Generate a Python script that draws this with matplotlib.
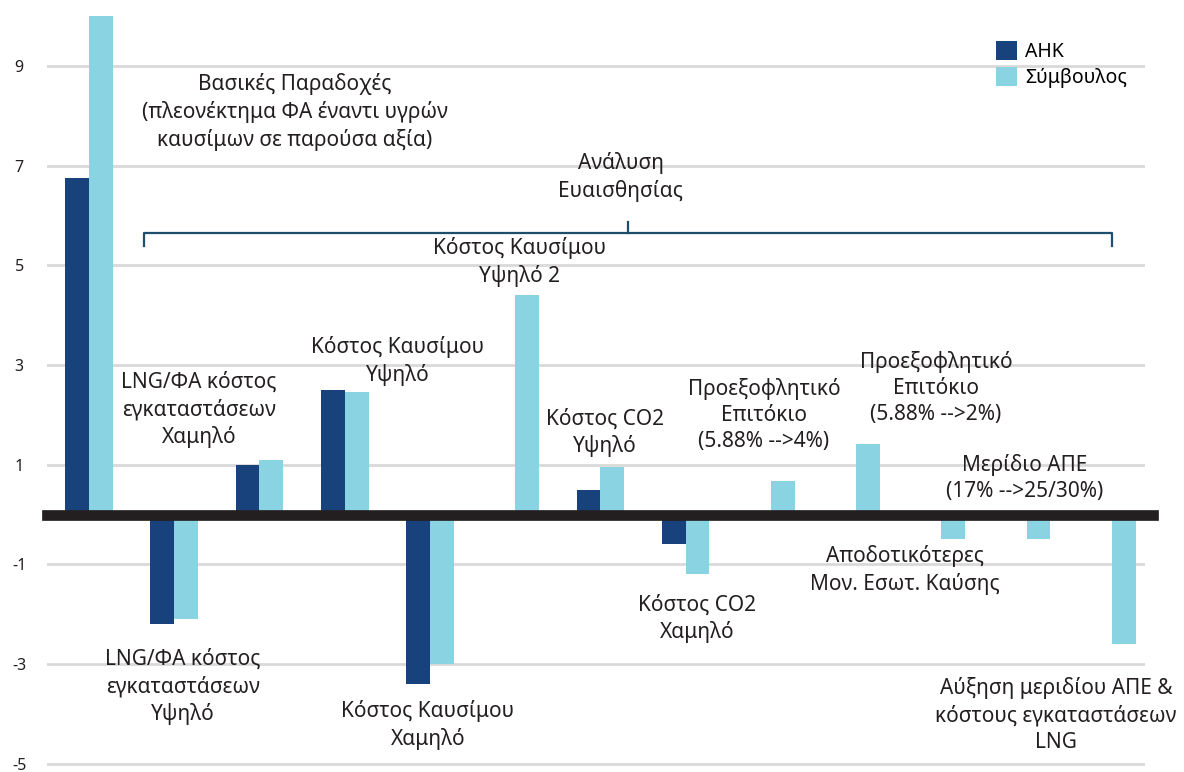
import numpy as np
import matplotlib
matplotlib.use('Agg')
import matplotlib.pyplot as plt
from matplotlib.lines import Line2D

plt.rcParams['font.family'] = ['Noto Sans', 'DejaVu Sans']
plt.rcParams['axes.unicode_minus'] = False

# values (13 scenarios)
ahk = [6.76, -2.2, 1.0, 2.5, -3.4, 0.0, 0.5, -0.6, 0.0, 0.0, 0.0, 0.0, 0.0]
symvoulos = [10.0, -2.1, 1.1, 2.45, -3.0, 4.4, 0.95, -1.2, 0.67, 1.42, -0.5, -0.5, -2.6]
series_names = ['ΑΗΚ', 'Σύμβουλος']
yticks = [-5, -3, -1, 1, 3, 5, 7, 9]

# scenario labels and where they sit (figure pixels, centre of block)
labels = [
    'Βασικές Παραδοχές\n(πλεονέκτημα ΦΑ έναντι υγρών\nκαυσίμων σε παρούσα αξία)',
    'Ανάλυση\nΕυαισθησίας',
    'Κόστος Καυσίμου\nΥψηλό 2',
    'LNG/ΦΑ κόστος\nεγκαταστάσεων\nΧαμηλό',
    'Κόστος Καυσίμου\nΥψηλό',
    'Κόστος CO2\nΥψηλό',
    'Προεξοφλητικό\nΕπιτόκιο\n(5.88% -->4%)',
    'Προεξοφλητικό\nΕπιτόκιο\n(5.88% -->2%)',
    'Μερίδιο ΑΠΕ\n(17% -->25/30%)',
    'Αποδοτικότερες\nΜον. Εσωτ. Καύσης',
    'LNG/ΦΑ κόστος\nεγκαταστάσεων\nΥψηλό',
    'Κόστος Καυσίμου\nΧαμηλό',
    'Κόστος CO2\nΧαμηλό',
    'Αύξηση μεριδίου ΑΠΕ &\nκόστους εγκαταστάσεων\nLNG',
]
label_pos = [(295, 112), (621, 177), (520, 262), (199, 410), (398, 361),
             (605, 433), (764, 415), (936, 388), (1025, 478), (905, 570),
             (183, 687), (428, 725), (697, 619), (1056, 715)]

W, H = 1184, 772
dark = '#17427c'
light = '#89d3e3'
txt = '#231f20'

fig = plt.figure(figsize=(W / 100, H / 100), dpi=100)
ax = fig.add_axes([47 / W, 0, (1145 - 47) / W, 1])

x = np.arange(len(ahk))
bw = 0.28
ax.bar(x - bw / 2, ahk, bw, color=dark, label=series_names[0], zorder=2)
ax.bar(x + bw / 2, symvoulos, bw, color=light, label=series_names[1], zorder=2)

ax.set_xlim(-0.493, 12.39)
ax.set_ylim(-5.17, 10.33)
ax.set_yticks(yticks)
ax.set_xticks([])
ax.yaxis.grid(True, color='#d9d9d9', lw=2, zorder=0)
ax.set_axisbelow(True)
ax.tick_params(axis='y', length=0, pad=20, labelsize=11.5, labelcolor=txt)
for t in ax.get_yticklabels():
    t.set_ha('center')
for s in ax.spines.values():
    s.set_visible(False)

ax.axhline(0, color=txt, lw=7.7, xmax=1.0073, clip_on=False, zorder=3)

for s, (px, py) in zip(labels, label_pos):
    fig.text(px / W, 1 - py / H, s, ha='center', va='center', fontsize=15,
             color=txt, linespacing=1.33)

# bracket over the sensitivity scenarios
bc = '#1d4e6e'
def fl(xs, ys):
    fig.add_artist(Line2D([p / W for p in xs], [1 - p / H for p in ys],
                          color=bc, lw=1.6))
fl([144, 144, 1112, 1112], [246, 233, 233, 246])
fl([628, 628], [233, 222])

ax.legend(loc='upper left', bbox_to_anchor=(996 / W, 1 - 41 / H),
          bbox_transform=fig.transFigure, frameon=False, fontsize=14,
          handlelength=1.1, handleheight=1.15, handletextpad=0.4,
          labelspacing=0.25, borderpad=0, borderaxespad=0)

fig.savefig('out.png', dpi=100)
